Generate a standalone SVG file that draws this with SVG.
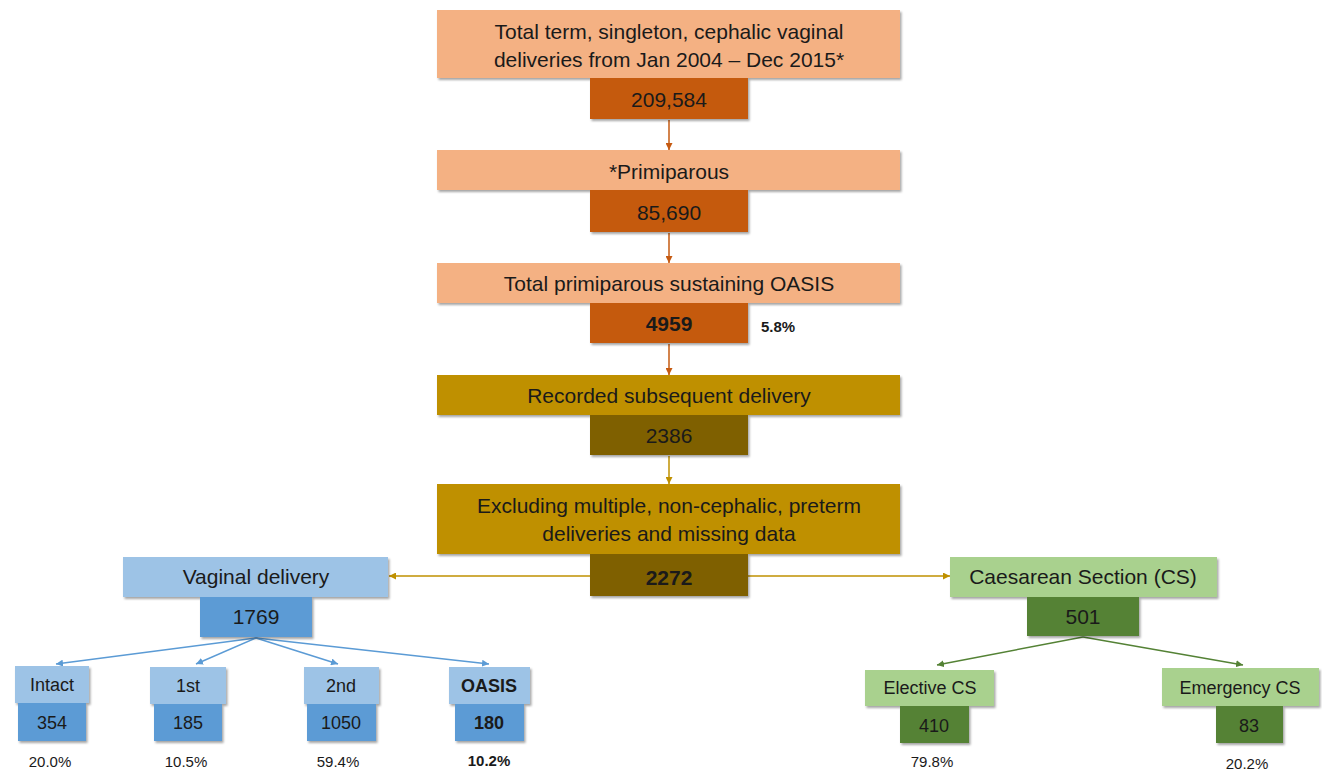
<svg xmlns="http://www.w3.org/2000/svg" width="1322" height="773" viewBox="0 0 1322 773">
<defs>
<filter id="sh" x="-10%" y="-10%" width="130%" height="140%">
<feDropShadow dx="1.5" dy="2" stdDeviation="1.2" flood-color="#000" flood-opacity="0.35"/>
</filter>
<marker id="mo" viewBox="0 0 10 10" refX="10" refY="5" markerWidth="7" markerHeight="7" markerUnits="userSpaceOnUse" orient="auto"><path d="M0,0 L10,5 L0,10 z" fill="#C55A11"/></marker>
<marker id="mg" viewBox="0 0 10 10" refX="10" refY="5" markerWidth="7" markerHeight="7" markerUnits="userSpaceOnUse" orient="auto"><path d="M0,0 L10,5 L0,10 z" fill="#BF9000"/></marker>
<marker id="mb" viewBox="0 0 10 10" refX="10" refY="5" markerWidth="7" markerHeight="7" markerUnits="userSpaceOnUse" orient="auto"><path d="M0,0 L10,5 L0,10 z" fill="#5B9BD5"/></marker>
<marker id="mgr" viewBox="0 0 10 10" refX="10" refY="5" markerWidth="7" markerHeight="7" markerUnits="userSpaceOnUse" orient="auto"><path d="M0,0 L10,5 L0,10 z" fill="#548235"/></marker>
</defs>
<style>
text{font-family:"Liberation Sans",Arial,sans-serif;fill:#1a1a1a;text-anchor:middle}
.b{filter:url(#sh)}
.sal{fill:#F4B183}.org{fill:#C55A11}
.gld{fill:#BF9000}.olv{fill:#7F6000}
.lb{fill:#9DC3E6}.bl{fill:#5B9BD5}
.lg{fill:#A9D18E}.gr{fill:#548235}
.t19{font-size:21px}.t17{font-size:18px}.t14{font-size:15px}
.bd{font-weight:bold}
.co{stroke:#C55A11;stroke-width:1.5;fill:none;marker-end:url(#mo)}
.cg{stroke:#BF9000;stroke-width:1.5;fill:none;marker-end:url(#mg)}
.cb{stroke:#5B9BD5;stroke-width:1.5;fill:none;marker-end:url(#mb)}
.cgr{stroke:#548235;stroke-width:1.5;fill:none;marker-end:url(#mgr)}
</style>
<g id="connectors">
<line class="co" x1="669" y1="120" x2="669" y2="150"/>
<line class="co" x1="669" y1="233" x2="669" y2="263"/>
<line class="co" x1="669" y1="344" x2="669" y2="375"/>
<line class="cg" x1="669" y1="456" x2="669" y2="484"/>
<line class="cg" x1="590" y1="576" x2="389" y2="576"/>
<line class="cg" x1="748" y1="576" x2="950" y2="576"/>
<line class="cb" x1="256" y1="638" x2="56" y2="664"/>
<line class="cb" x1="256" y1="638" x2="196" y2="664"/>
<line class="cb" x1="256" y1="638" x2="338" y2="664"/>
<line class="cb" x1="256" y1="638" x2="489" y2="664"/>
<line class="cgr" x1="1083" y1="637" x2="937" y2="665"/>
<line class="cgr" x1="1083" y1="637" x2="1243" y2="665"/>
</g>
<g id="n-total">
<rect class="b sal" x="437" y="10" width="463" height="68"/>
<text class="t19" x="669" y="39">Total term, singleton, cephalic vaginal</text>
<text class="t19" x="669" y="67">deliveries from Jan 2004 – Dec 2015*</text>
<rect class="b org" x="590" y="78" width="158" height="41"/>
<text class="t19" x="669" y="107">209,584</text>
</g>
<g id="n-primi">
<rect class="b sal" x="437" y="150" width="463" height="40"/>
<text class="t19" x="669" y="179">*Primiparous</text>
<rect class="b org" x="590" y="190" width="158" height="42"/>
<text class="t19" x="669" y="220">85,690</text>
</g>
<g id="n-oasis">
<rect class="b sal" x="437" y="263" width="463" height="40"/>
<text class="t19" x="669" y="291">Total primiparous sustaining OASIS</text>
<rect class="b org" x="590" y="303" width="158" height="40"/>
<text class="t19 bd" x="669" y="331">4959</text>
<text class="t14 bd" x="778" y="332">5.8%</text>
</g>
<g id="n-recorded">
<rect class="b gld" x="437" y="375" width="463" height="40"/>
<text class="t19" x="669" y="403">Recorded subsequent delivery</text>
<rect class="b olv" x="590" y="415" width="158" height="40"/>
<text class="t19" x="669" y="443">2386</text>
</g>
<g id="n-excl">
<rect class="b gld" x="437" y="484" width="463" height="70"/>
<text class="t19" x="669" y="513">Excluding multiple, non-cephalic, preterm</text>
<text class="t19" x="669" y="541">deliveries and missing data</text>
<rect class="b olv" x="590" y="554" width="158" height="42"/>
<text class="t19 bd" x="669" y="585">2272</text>
</g>
<g id="n-vaginal">
<rect class="b lb" x="123" y="557" width="265" height="40"/>
<text class="t19" x="256" y="584">Vaginal delivery</text>
<rect class="b bl" x="200" y="597" width="112" height="40"/>
<text class="t19" x="256" y="624">1769</text>
</g>
<g id="n-intact">
<rect class="b lb" x="15" y="666" width="74" height="37"/>
<text class="t17" x="52" y="691">Intact</text>
<rect class="b bl" x="18" y="703" width="68" height="38"/>
<text class="t17" x="52" y="729">354</text>
<text class="t14" x="50" y="767">20.0%</text>
</g>
<g id="n-first">
<rect class="b lb" x="150" y="667" width="76" height="37"/>
<text class="t17" x="188" y="692">1st</text>
<rect class="b bl" x="154" y="704" width="68" height="37"/>
<text class="t17" x="188" y="729">185</text>
<text class="t14" x="186" y="767">10.5%</text>
</g>
<g id="n-second">
<rect class="b lb" x="304" y="667" width="75" height="37"/>
<text class="t17" x="341" y="692">2nd</text>
<rect class="b bl" x="307" y="704" width="69" height="37"/>
<text class="t17" x="341" y="729">1050</text>
<text class="t14" x="338" y="767">59.4%</text>
</g>
<g id="n-oasis2">
<rect class="b lb" x="449" y="667" width="81" height="37"/>
<text class="t17 bd" x="489" y="692">OASIS</text>
<rect class="b bl" x="455" y="704" width="69" height="37"/>
<text class="t17 bd" x="489" y="729">180</text>
<text class="t14 bd" x="489" y="766">10.2%</text>
</g>
<g id="n-cs">
<rect class="b lg" x="950" y="557" width="267" height="40"/>
<text class="t19" x="1083" y="584">Caesarean Section (CS)</text>
<rect class="b gr" x="1027" y="597" width="112" height="39"/>
<text class="t19" x="1083" y="624">501</text>
</g>
<g id="n-elective">
<rect class="b lg" x="865" y="670" width="129" height="36"/>
<text class="t17" x="930" y="694">Elective CS</text>
<rect class="b gr" x="900" y="706" width="69" height="37"/>
<text class="t17" x="934" y="732">410</text>
<text class="t14" x="932" y="767">79.8%</text>
</g>
<g id="n-emergency">
<rect class="b lg" x="1162" y="668" width="157" height="38"/>
<text class="t17" x="1240" y="694">Emergency CS</text>
<rect class="b gr" x="1216" y="706" width="67" height="37"/>
<text class="t17" x="1249" y="732">83</text>
<text class="t14" x="1247" y="769">20.2%</text>
</g>
</svg>
